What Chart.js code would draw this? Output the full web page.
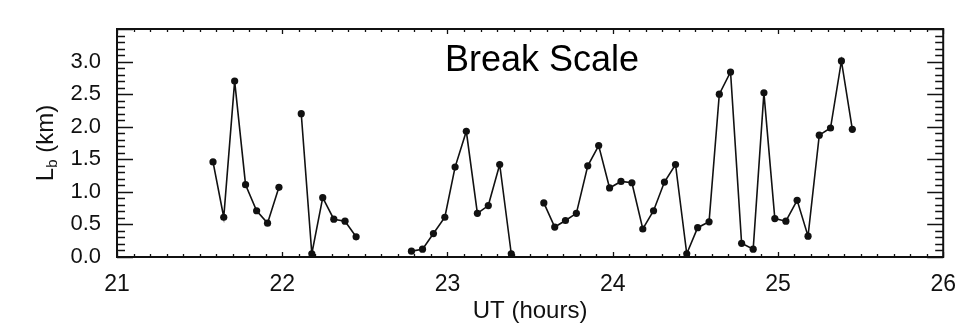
<!DOCTYPE html>
<html>
<head>
<meta charset="utf-8">
<title>Break scale</title>
<script src="https://cdn.jsdelivr.net/npm/chart.js@4.4.1/dist/chart.umd.min.js"></script>
<style>
    html, body { margin: 0; padding: 0; background: #fff; }
    #wrap { width: 962px; height: 326px; position: relative; }
</style>
</head>
<body>
<div id="wrap"><canvas id="lbChart"></canvas></div>
<script>
// UT in hours, one sample every 4 minutes; null marks a missing sample
const utHours = [
    21.581, 21.646, 21.712, 21.778, 21.845, 21.911, 21.980,
    22.047,
    22.115, 22.179, 22.245, 22.312, 22.380, 22.447,
    22.514, 22.580, 22.647, 22.714,
    22.782, 22.849, 22.915, 22.984, 23.046, 23.114, 23.181, 23.247, 23.316, 23.386,
    23.450, 23.516,
    23.583, 23.649, 23.714, 23.780, 23.849, 23.915, 23.981, 24.050, 24.116, 24.182,
    24.247, 24.313, 24.380, 24.448, 24.514, 24.583, 24.645, 24.713, 24.780, 24.850,
    24.915, 24.981, 25.048, 25.116, 25.182, 25.250, 25.318, 25.384, 25.450
];
const breakLength = [
    1.46, 0.61, 2.70, 1.11, 0.71, 0.52, 1.07,
    null,
    2.20, 0.05, 0.91, 0.58, 0.55, 0.31,
    null, null, null, null,
    0.09, 0.12, 0.36, 0.61, 1.38, 1.93, 0.67, 0.79, 1.42, 0.05,
    null, null,
    0.83, 0.46, 0.56, 0.67, 1.40, 1.71, 1.06, 1.16, 1.14, 0.43,
    0.71, 1.15, 1.42, 0.05, 0.45, 0.54, 2.50, 2.84, 0.21, 0.12,
    2.52, 0.59, 0.55, 0.87, 0.32, 1.87, 1.98, 3.01, 1.96
];
const xTicks = [21, 22, 23, 24, 25, 26];
const yTicks = [0.0, 0.5, 1.0, 1.5, 2.0, 2.5, 3.0];

const FONT = '"Liberation Sans", Arial, Helvetica, sans-serif';
const INK = '#111';

// box around the plot plus inward ticks on all four sides, label text
const framePlugin = {
    id: 'frame',
    afterDraw(chart) {
        const ctx = chart.ctx;
        const a = chart.chartArea;
        const xs = chart.scales.x;
        const ys = chart.scales.y;
        ctx.save();
        ctx.strokeStyle = INK;
        ctx.lineWidth = 1.3;
        ctx.beginPath();
        for (let i = 0; i <= 50; i++) {
            const v = xs.min + i * 0.1;
            const px = Math.round(xs.getPixelForValue(v)) + 0.5;
            const len = i % 10 === 0 ? 5 : 3;
            ctx.moveTo(px, a.bottom); ctx.lineTo(px, a.bottom - len);
            ctx.moveTo(px, a.top); ctx.lineTo(px, a.top + len);
        }
        for (let i = 0; i <= 35; i++) {
            const v = i * 0.1;
            const py = Math.round(ys.getPixelForValue(v)) + 0.5;
            const len = i % 5 === 0 ? 16 : 8;
            ctx.moveTo(a.left, py); ctx.lineTo(a.left + len, py);
            ctx.moveTo(a.right, py); ctx.lineTo(a.right - len, py);
        }
        ctx.stroke();

        ctx.lineWidth = 2;
        ctx.strokeRect(a.left, a.top, a.right - a.left, a.bottom - a.top);

        ctx.fillStyle = '#000';
        ctx.font = '36px ' + FONT;
        ctx.textAlign = 'center';
        ctx.textBaseline = 'middle';
        ctx.fillText('Break Scale', 542, 61);

        // y title: L with subscript b, then (km)
        ctx.fillStyle = '#111';
        ctx.translate(45, (a.top + a.bottom) / 2);
        ctx.rotate(-Math.PI / 2);
        ctx.textAlign = 'left';
        ctx.textBaseline = 'alphabetic';
        const big = '24px ' + FONT;
        const small = '15px ' + FONT;
        ctx.font = big;
        const wL = ctx.measureText('L').width;
        const wRest = ctx.measureText(' (km)').width;
        ctx.font = small;
        const wb = ctx.measureText('b').width;
        let x0 = -(wL + wb + wRest) / 2;
        ctx.font = big;
        ctx.fillText('L', x0, 8);
        ctx.font = small;
        ctx.fillText('b', x0 + wL, 12);
        ctx.font = big;
        ctx.fillText(' (km)', x0 + wL + wb, 8);
        ctx.restore();
    }
};

const ctx = document.getElementById('lbChart').getContext('2d');
const lbChart = new Chart(ctx, {
    type: 'line',
    data: {
        datasets: [{
            label: 'Lb',
            data: utHours.map((t, i) => ({ x: t, y: breakLength[i] })),
            borderColor: INK,
            backgroundColor: INK,
            borderWidth: 1.6,
            pointRadius: 3.6,
            pointBorderWidth: 0,
            pointBackgroundColor: INK,
            spanGaps: false,
            tension: 0
        }]
    },
    options: {
        responsive: true,
        maintainAspectRatio: false,
        animation: false,
        layout: { padding: { top: 29, right: 13, left: 0, bottom: 0 } },
        plugins: {
            legend: { display: false },
            tooltip: { enabled: false }
        },
        scales: {
            x: {
                type: 'linear',
                min: 21,
                max: 26,
                afterBuildTicks: scale => { scale.ticks = xTicks.map(v => ({ value: v })); },
                afterFit: scale => { scale.height = 69; },
                grid: { display: false },
                border: { display: false },
                ticks: {
                    padding: 6,
                    maxRotation: 0,
                    autoSkip: false,
                    color: '#111',
                    font: { family: FONT, size: 23 },
                    callback: v => String(v)
                },
                title: {
                    display: true,
                    text: 'UT (hours)',
                    color: '#111',
                    font: { family: FONT, size: 24 },
                    padding: { top: 0, bottom: 0 }
                }
            },
            y: {
                min: 0,
                max: 3.5,
                afterBuildTicks: scale => { scale.ticks = yTicks.map(v => ({ value: v })); },
                afterFit: scale => { scale.width = 117; },
                grid: { display: false },
                border: { display: false },
                ticks: {
                    padding: 8,
                    autoSkip: false,
                    color: '#111',
                    font: { family: FONT, size: 22 },
                    callback: v => v.toFixed(1)
                }
            }
        }
    },
    plugins: [framePlugin]
});
</script>
</body>
</html>
